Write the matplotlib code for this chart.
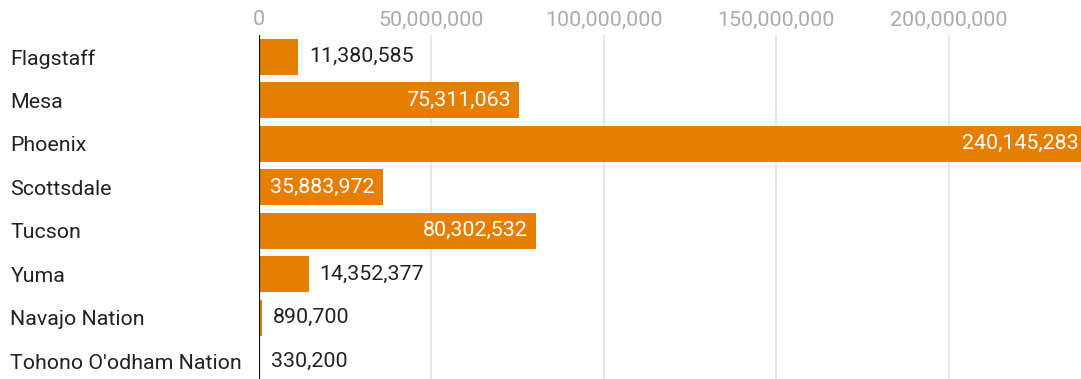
import matplotlib
matplotlib.use("Agg")
import matplotlib.pyplot as plt
from matplotlib.ticker import FuncFormatter

categories = ["Flagstaff", "Mesa", "Phoenix", "Scottsdale", "Tucson", "Yuma",
              "Navajo Nation", "Tohono O'odham Nation"]
values = [11380585, 75311063, 240145283, 35883972, 80302532, 14352377, 890700, 330200]
xticks = [0, 50000000, 100000000, 150000000, 200000000]

plt.rcParams['font.family'] = ['Roboto', 'DejaVu Sans']

W, H = 1081, 379
fig = plt.figure(figsize=(W / 100, H / 100), dpi=100)
ax = fig.add_axes([259 / W, -4 / H, (W - 259) / W, 348 / H])

bar_color = "#E67E00"
y = list(range(len(categories)))
ax.barh(y, values, height=0.83, color=bar_color, zorder=2)

ax.set_ylim(len(categories) - 0.5, -0.5)
ax.set_xlim(0, 238.3e6)

for xt in xticks[1:]:
    ax.axvline(xt, color="#e3e3e3", lw=1.2, zorder=1)
ax.axvline(0, color="#111111", lw=1.6, zorder=3)

FS = 15.4
ax.xaxis.tick_top()
ax.set_xticks(xticks)
ax.xaxis.set_major_formatter(FuncFormatter(lambda v, p: f"{int(v):,}"))
ax.tick_params(axis="x", length=0, pad=4, labelsize=FS, labelcolor="#ababab")

ax.set_yticks(y)
ax.set_yticklabels(categories)
ax.tick_params(axis="y", length=0, pad=179, labelsize=FS, labelcolor="#222222")
for lab in ax.get_yticklabels():
    lab.set_horizontalalignment("left")

for sp in ax.spines.values():
    sp.set_visible(False)

threshold = 30e6
for yi, v in zip(y, values):
    txt = f"{v:,}"
    if v >= threshold:
        ax.annotate(txt, (v, yi), xytext=(-6, 0), textcoords="offset points",
                    ha="right", va="center", color="white", fontsize=FS, zorder=4,
                    annotation_clip=False)
    else:
        ax.annotate(txt, (v, yi), xytext=(8, 0), textcoords="offset points",
                    ha="left", va="center", color="#222222", fontsize=FS, zorder=4)

fig.savefig("out.png", dpi=100)
